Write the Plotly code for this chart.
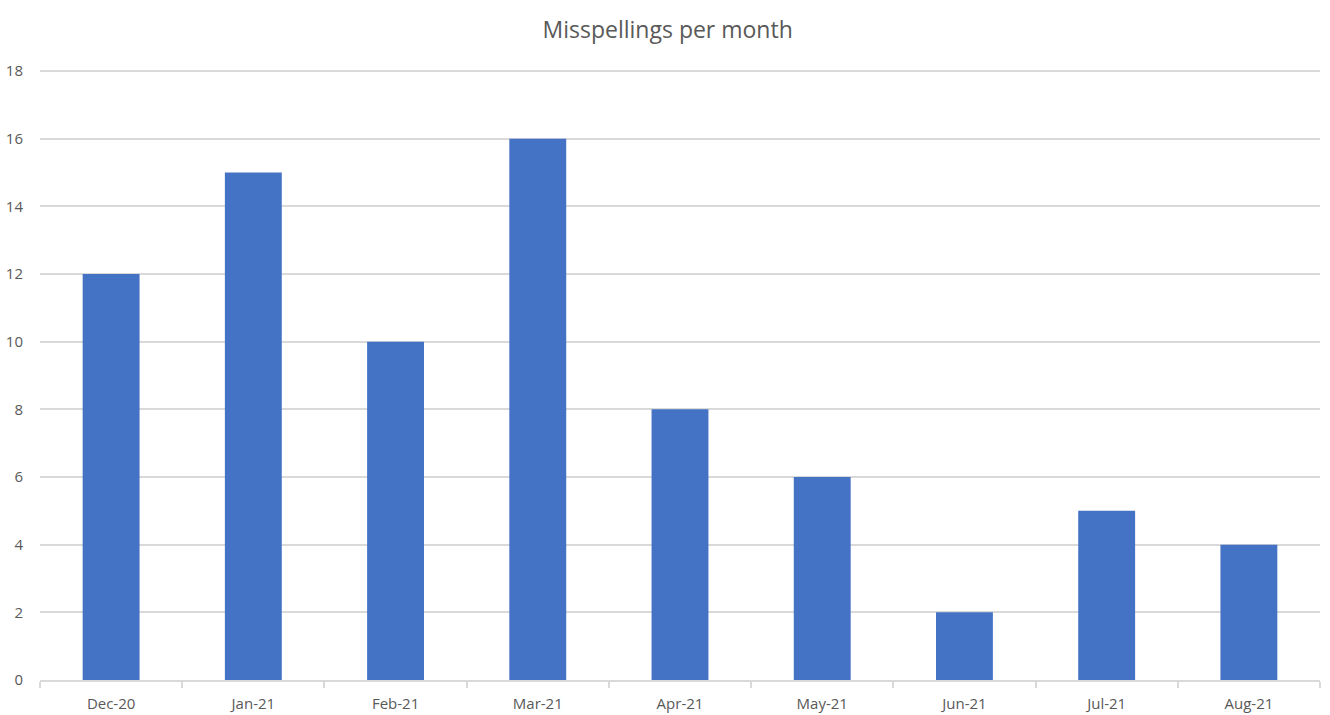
import plotly.graph_objects as go

months = ["Dec-20", "Jan-21", "Feb-21", "Mar-21", "Apr-21", "May-21", "Jun-21", "Jul-21", "Aug-21"]
misspellings = [12, 15, 10, 16, 8, 6, 2, 5, 4]
y_ticks = [0, 2, 4, 6, 8, 10, 12, 14, 16, 18]

fig = go.Figure(go.Bar(x=months, y=misspellings, marker=dict(color="#4472C4", line=dict(width=0))))

fig.update_layout(
    width=1330, height=715,
    margin=dict(l=40, r=10, t=70, b=35, autoexpand=False),
    paper_bgcolor="white", plot_bgcolor="white",
    bargap=0.6,
    showlegend=False,
    font=dict(family="Open Sans", color="#595959", size=15),
    title=dict(text="Misspellings per month", x=0.502, xanchor="center", y=0.958, yanchor="middle",
               font=dict(size=23, color="#595959", family="Open Sans"), automargin=False),
)
fig.update_xaxes(
    type="category", showline=True, linecolor="#d9d9d9", linewidth=1.5,
    ticks="outside", tickson="boundaries", ticklen=6, tickcolor="#d9d9d9", tickwidth=1.5,
    showgrid=False, tickfont=dict(size=15), automargin=False, ticklabelstandoff=9,
)
fig.update_yaxes(
    range=[0, 18.03], tickvals=y_ticks, showgrid=True, gridcolor="#d9d9d9", gridwidth=1.5,
    zeroline=False, showline=False, ticks="", tickfont=dict(size=15), ticklabelstandoff=16,
    automargin=False,
)

fig.write_html("out.html", config={"displayModeBar": False},
               post_script="document.body.style.margin='0';document.body.style.overflow='hidden';")
